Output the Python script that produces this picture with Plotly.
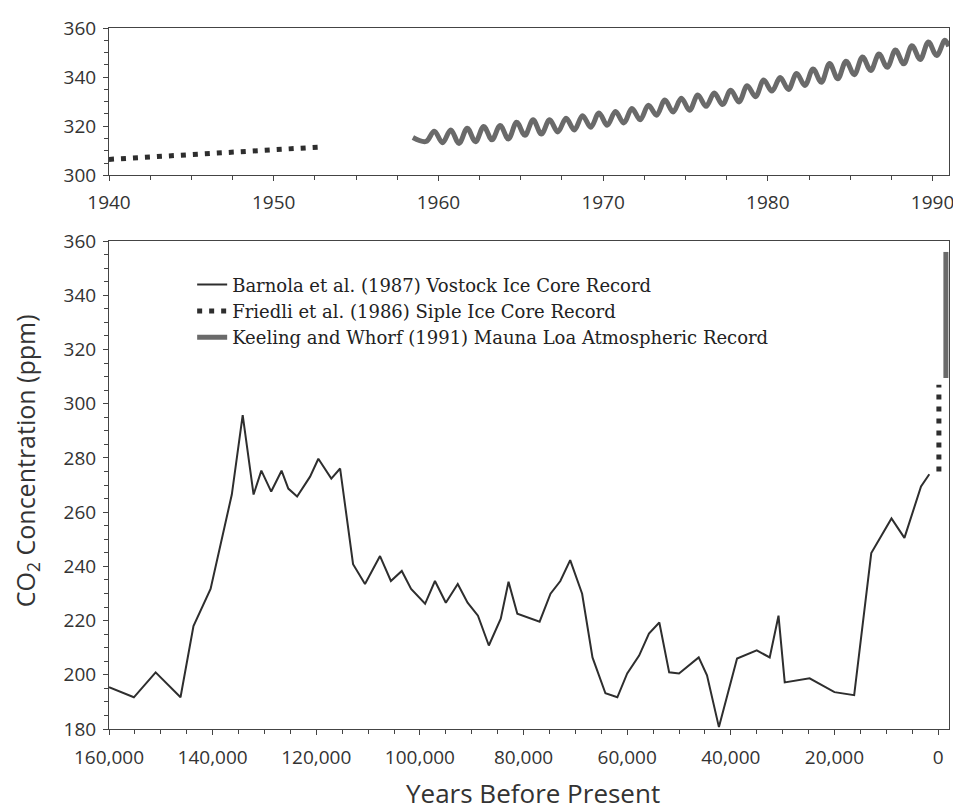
import plotly.graph_objects as go

# ---------------- data ----------------
# Vostok ice core (Barnola et al. 1987): years before present, CO2 ppm
vostok_years = [160000, 155200, 151000, 146200, 143700, 140400, 136300, 134200, 132100, 130600,
                128700, 126700, 125400, 123700, 121200, 119600, 117100, 115400, 112900, 110600,
                107700, 105600, 103500, 101700, 99000, 97100, 95000, 92700, 90800, 88800,
                86700, 84400, 82900, 81200, 76900, 74800, 72900, 71000, 68700, 66700,
                64200, 61900, 60000, 57700, 55800, 53800, 51900, 50000, 46200, 44600,
                42300, 38800, 35000, 32500, 30800, 29600, 24800, 20000, 16200, 12900,
                9000, 6500, 3300, 1700]
vostok_co2 = [195.4, 191.7, 200.9, 191.7, 218.0, 231.7, 266.5, 295.8, 266.5, 275.3,
              267.6, 275.3, 268.7, 265.8, 273.1, 279.7, 272.4, 276.1, 240.8, 233.5,
              243.8, 234.6, 238.3, 231.7, 226.2, 234.6, 226.6, 233.5, 226.6, 221.8,
              210.8, 220.7, 234.3, 222.5, 219.6, 229.9, 234.6, 242.3, 229.9, 206.4,
              193.2, 191.7, 200.5, 207.1, 215.2, 219.3, 200.9, 200.5, 206.4, 199.8,
              180.7, 206.0, 209.0, 206.4, 221.8, 197.2, 198.7, 193.6, 192.5, 244.9,
              257.7, 250.5, 269.5, 274.0]

# Siple ice core (Friedli et al. 1986), top panel (calendar years)
siple_years = [1940, 1945, 1950, 1953]
siple_co2 = [306.5, 308.3, 310.2, 311.6]
# Siple record as shown on the long time scale (years BP, offset for visibility)
siple_bp_years = [-150, -150]
siple_bp_co2 = [275.0, 307.0]

# Mauna Loa (Keeling & Whorf 1991): yearly seasonal low and high
ml_years = list(range(1959, 1991))
ml_low = [313.8, 313.3, 313.0, 313.7, 314.5, 314.8, 316.3, 316.8, 317.7, 318.5,
          319.6, 320.4, 321.3, 322.6, 324.5, 325.8, 326.5, 328.1, 328.8, 329.9,
          332.0, 334.3, 335.0, 336.6, 337.9, 339.3, 341.0, 342.7, 344.0, 345.4,
          347.2, 348.8]
ml_high = [318.0, 318.5, 319.2, 319.9, 320.3, 321.6, 322.6, 322.6, 323.2, 324.3,
           325.4, 326.0, 327.2, 328.5, 330.7, 331.4, 332.7, 333.5, 334.7, 336.5,
           338.8, 339.8, 341.5, 343.3, 345.5, 346.5, 348.2, 349.4, 351.0, 352.8,
           354.3, 355.0]
ml_start = (1958.45, 315.4)
ml_end = (1990.98, 352.5)
low_phase, high_phase = 0.25, 0.75
# Mauna Loa record as shown on the long time scale (years BP, offset for visibility)
ml_bp_years = [-1500, -1500]
ml_bp_co2 = [309.5, 356.0]

# tick labels
top_x_ticks = [1940, 1950, 1960, 1970, 1980, 1990]
top_y_ticks = [300, 320, 340, 360]
bot_x_ticks = [160000, 140000, 120000, 100000, 80000, 60000, 40000, 20000, 0]
bot_y_ticks = [180, 200, 220, 240, 260, 280, 300, 320, 340, 360]

# ---------------- build ----------------
ml_x = [ml_start[0]]
ml_y = [ml_start[1]]
for yr, lo, hi in zip(ml_years, ml_low, ml_high):
    ml_x += [yr + low_phase, yr + high_phase]
    ml_y += [lo, hi]
ml_x.append(ml_end[0])
ml_y.append(ml_end[1])

DARK = "#2e2e2e"
ML_GRAY = "#6a6a6a"
DOT = "5px,7px"

fig = go.Figure()

# top panel
fig.add_trace(go.Scatter(x=siple_years, y=siple_co2, mode="lines", xaxis="x", yaxis="y",
                         line=dict(color=DARK, width=5, dash=DOT), showlegend=False,
                         name="Friedli et al. (1986) Siple Ice Core Record"))
fig.add_trace(go.Scatter(x=ml_x, y=ml_y, mode="lines", xaxis="x", yaxis="y",
                         line=dict(color=ML_GRAY, width=5, shape="spline", smoothing=1),
                         showlegend=False,
                         name="Keeling and Whorf (1991) Mauna Loa Atmospheric Record"))

# bottom panel
fig.add_trace(go.Scatter(x=vostok_years, y=vostok_co2, mode="lines", xaxis="x2", yaxis="y2",
                         line=dict(color=DARK, width=2),
                         name="Barnola et al. (1987) Vostock Ice Core Record"))
fig.add_trace(go.Scatter(x=siple_bp_years, y=siple_bp_co2, mode="lines", xaxis="x2", yaxis="y2",
                         line=dict(color=DARK, width=5, dash=DOT),
                         name="Friedli et al. (1986) Siple Ice Core Record"))
fig.add_trace(go.Scatter(x=ml_bp_years, y=ml_bp_co2, mode="lines", xaxis="x2", yaxis="y2",
                         line=dict(color=ML_GRAY, width=5),
                         name="Keeling and Whorf (1991) Mauna Loa Atmospheric Record"))

tickfont = dict(family="Open Sans", size=19, color="#333333")
axis_common = dict(showline=True, linecolor="#444444", linewidth=1, mirror=True,
                   ticks="outside", ticklen=5, tickcolor="#444444", tickwidth=1,
                   showgrid=False, zeroline=False, tickfont=tickfont,
                   ticklabeloverflow="allow")

# the page body adds an 8px offset, so the figure is sized to end at the window edge
fig.update_layout(
    width=953, height=802,
    margin=dict(l=101, r=7, t=16, b=81),
    paper_bgcolor="white", plot_bgcolor="white",
    xaxis=dict(domain=[0, 1], anchor="y", range=[1940, 1991],
               tickvals=top_x_ticks, ticklabelstandoff=5,
               minor=dict(dtick=2.5, tick0=1940, ticklen=4, ticks="outside", tickcolor="#444444"),
               **axis_common),
    yaxis=dict(domain=[0.7898, 1], anchor="x", range=[300, 360],
               tickvals=top_y_ticks, ticklabelstandoff=3,
               minor=dict(dtick=5, tick0=300, ticklen=4, ticks="outside", tickcolor="#444444"),
               **axis_common),
    xaxis2=dict(domain=[0, 1], anchor="y2", range=[160000, -2100],
                tickvals=bot_x_ticks, tickformat=",d", ticklabelstandoff=6,
                minor=dict(dtick=5000, tick0=0, ticklen=4, ticks="outside", tickcolor="#444444"),
                **axis_common),
    yaxis2=dict(domain=[0, 0.696], anchor="x2", range=[180, 360],
                tickvals=bot_y_ticks, ticklabelstandoff=3,
                minor=dict(dtick=5, tick0=180, ticklen=4, ticks="outside", tickcolor="#444444"),
                **axis_common),
    legend=dict(x=0.099, y=0.660, xanchor="left", yanchor="top",
                bgcolor="rgba(0,0,0,0)", borderwidth=0,
                font=dict(family="DejaVu Serif", size=18, color="#222222")),
    annotations=[
        dict(text="Years Before Present", xref="paper", yref="paper",
             x=0.505, y=-0.091, xanchor="center", yanchor="middle", showarrow=False,
             font=dict(family="Open Sans", size=26, color="#333333")),
        dict(text="CO<sub>2</sub> Concentration (ppm)", xref="paper", yref="paper",
             x=-0.098, y=0.383, xanchor="center", yanchor="middle",
             textangle=-90, showarrow=False,
             font=dict(family="Open Sans", size=25, color="#333333")),
    ],
)

fig.write_html("out.html")
